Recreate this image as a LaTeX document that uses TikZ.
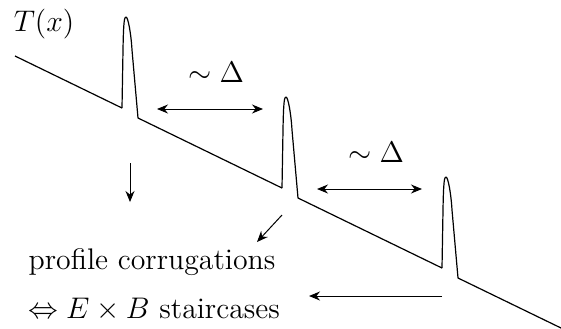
\documentclass[tikz,border=0pt]{standalone}
\usepackage{amsmath,amssymb}
\usepackage{tikz}
\usetikzlibrary{arrows.meta}

\begin{document}
\begin{tikzpicture}[x=0.5pt, y=-0.5pt,
  prof/.style={line width=0.6pt, line join=round},
  arr/.style={-{Stealth[length=5.5pt, width=4.5pt]}, line width=0.5pt},
  darr/.style={{Stealth[length=5.5pt, width=4.5pt]}-{Stealth[length=5.5pt, width=4.5pt]}, line width=0.5pt},
  lab/.style={font=\Large, scale=1.035}]
\useasboundingbox (0,0) rectangle (561,328);
% profile with spikes
\draw[prof] (15,56) -- (122,108);
\foreach \bx/\by/\ex/\ey in {122/108/282/188, 282/188/442/268, 442/268/561/328}
  \draw[prof] (\bx,\by) -- ({\bx+1},{\by-58}) .. controls ({\bx+1.5},{\by-88}) and ({\bx+2.5},{\by-91}) .. ({\bx+4},{\by-91})
    .. controls ({\bx+6},{\by-91}) and ({\bx+9},{\by-75}) .. ({\bx+10},{\by-58}) -- ({\bx+16},{\by+10}) -- (\ex,\ey);
% labels
\node[lab] (tx) at (44,24) {$T(x)$};
\node[lab, anchor=base] (gap1) at (216,82) {$\sim\Delta$};
\node[lab, anchor=base] (gap2) at (376,162) {$\sim\Delta$};
\node[lab, anchor=base] (corr) at (152,269) {profile corrugations};
\node[lab, anchor=base] (stair) at (154,318) {$\Leftrightarrow E\times B$ staircases};
% spacing arrows
\coordinate (g1a) at (157,109); \coordinate (g1b) at (263,109);
\coordinate (g2a) at (317,189); \coordinate (g2b) at (422,189);
\draw[darr] (g1a) -- (g1b);
\draw[darr] (g2a) -- (g2b);
% pointers
\coordinate (p1) at (130,163); \coordinate (q1) at (130,202);
\coordinate (p2) at (282,215); \coordinate (q2) at (257,242);
\coordinate (p3) at (442,296); \coordinate (q3) at (309,296);
\draw[arr] (p1) -- (q1);
\draw[arr] (p2) -- (q2);
\draw[arr] (p3) -- (q3);
\end{tikzpicture}
\end{document}
